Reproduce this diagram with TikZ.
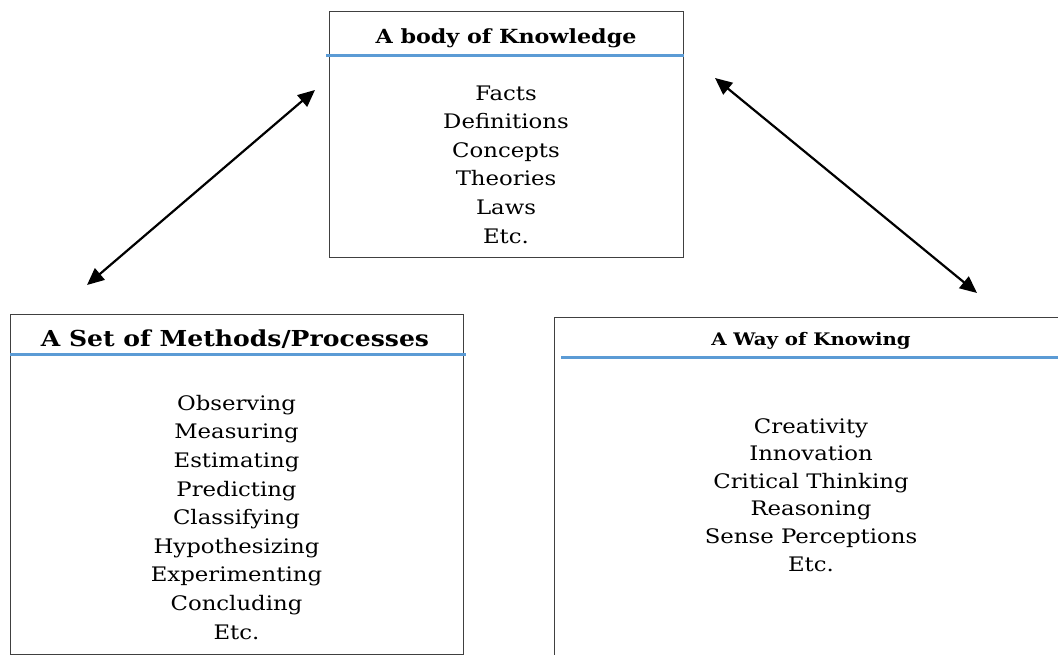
\documentclass[tikz,border=0pt]{standalone}
\usepackage{fontspec}
\setmainfont{DejaVu Serif}[FakeStretch=1.14]
\definecolor{HeaderRule}{HTML}{5B9BD5}
\colorlet{BoxBorder}{black!75}
\usetikzlibrary{positioning, arrows.meta}

\begin{document}
\begin{tikzpicture}[x=1pt, y=-1pt,
    BoxFrame/.style = {draw = BoxBorder, line width = 0.9pt},
    TitleRule/.style = {draw = HeaderRule, line width = 3pt},
    TitleText/.style = {anchor = base, inner sep = 0pt, font = \bfseries},
    ItemList/.style = {anchor = north, inner sep = 0pt, align = center},
    Link/.style = {<->, >={Triangle[length=17pt,width=15pt]}, line width = 2.2pt}]

\useasboundingbox (0, 0) rectangle (1058, 655);

% a body of knowledge
\coordinate (KnowledgeNW) at (329, 11);
\coordinate (KnowledgeSE) at (683, 257);
\draw[BoxFrame] (KnowledgeNW) rectangle (KnowledgeSE);
\node[TitleText, font = \bfseries\fontsize{19.5}{24}\selectfont] (KnowledgeTitle) at (506, 43.3) {A body of Knowledge};
\draw[TitleRule] (326, 56) -- (684, 56);
\node[ItemList, font = \fontsize{20}{28.6}\selectfont] (KnowledgeList) at (506, 85.4)
    {Facts\\Definitions\\Concepts\\Theories\\Laws\\Etc.};

% a set of methods/processes
\coordinate (MethodsNW) at (10, 314);
\coordinate (MethodsSE) at (463, 654);
\draw[BoxFrame] (MethodsNW) rectangle (MethodsSE);
\node[TitleText, font = \bfseries\fontsize{22}{26}\selectfont] (MethodsTitle) at (235, 346.7) {A Set of Methods/Processes};
\draw[TitleRule] (10, 354) -- (466, 354);
\node[ItemList, font = \fontsize{20}{28.6}\selectfont] (MethodsList) at (236.5, 395)
    {Observing\\Measuring\\Estimating\\Predicting\\Classifying\\Hypothesizing\\Experimenting\\Concluding\\Etc.};

% a way of knowing
\coordinate (KnowingNW) at (554, 317);
\coordinate (KnowingSE) at (1066, 670);
\draw[BoxFrame] (KnowingNW) rectangle (KnowingSE);
\node[TitleText, font = \bfseries\fontsize{17.3}{20}\selectfont] (KnowingTitle) at (811, 345.7) {A Way of Knowing};
\draw[TitleRule] (561, 357) -- (1066, 357);
\node[ItemList, font = \fontsize{20}{27.6}\selectfont] (KnowingList) at (811, 418)
    {Creativity\\Innovation\\Critical Thinking\\Reasoning\\Sense Perceptions\\Etc.};

% double arrows
\coordinate (LeftLow) at (87, 285);
\coordinate (LeftHigh) at (315, 90);
\coordinate (RightHigh) at (715, 78);
\coordinate (RightLow) at (977, 293);
\draw[Link] (LeftLow) -- (LeftHigh);
\draw[Link] (RightHigh) -- (RightLow);

\end{tikzpicture}
\end{document}
